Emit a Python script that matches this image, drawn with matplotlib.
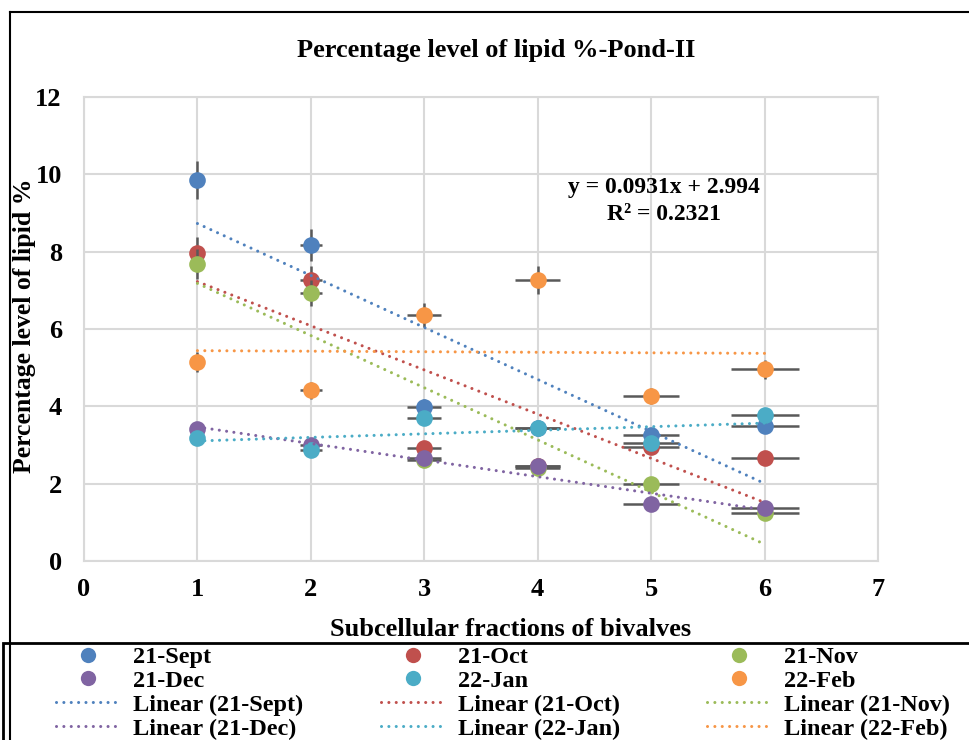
import numpy as np
import matplotlib
matplotlib.use("Agg")
import matplotlib.pyplot as plt
from matplotlib.lines import Line2D
from matplotlib.patches import Rectangle

plt.rcParams['font.family'] = ['Liberation Serif', 'DejaVu Serif']
plt.rcParams['font.weight'] = 'bold'

# ---------------- data ----------------
fractions = [1, 2, 3, 4, 5, 6]
series_names = ["21-Sept", "21-Oct", "21-Nov", "21-Dec", "22-Jan", "22-Feb"]
sept = [9.85, 8.17, 3.98, 3.45, 3.26, 3.49]
octo = [7.97, 7.27, 2.92, 2.45, 2.95, 2.66]
nov = [7.68, 6.93, 2.60, 2.40, 1.99, 1.24]
dec = [3.41, 3.00, 2.66, 2.46, 1.47, 1.37]
jan = [3.18, 2.87, 3.70, 3.44, 3.05, 3.77]
feb = [5.15, 4.42, 6.36, 7.27, 4.27, 4.96]
colors = ["#4F81BD", "#C0504D", "#9BBB59", "#8064A2", "#4BACC6", "#F79646"]
error_pct = 0.05
title = "Percentage level of lipid %-Pond-II"
xlabel = "Subcellular fractions of bivalves"
ylabel = "Percentage level of lipid %"
eq_text = "y = 0.0931x + 2.994"
r2_text = "R\u00b2 = 0.2321"

all_series = [sept, octo, nov, dec, jan, feb]

W, H = 970, 740
fig = plt.figure(figsize=(W / 100, H / 100), dpi=100)

def fx(px):
    return px / W

def fy(py):
    return 1 - py / H

ax = fig.add_axes([fx(84), fy(561), fx(878) - fx(84), fy(97) - fy(561)])

x = np.array(fractions, dtype=float)
for i, (vals, c) in enumerate(zip(all_series, colors)):
    y = np.array(vals, dtype=float)
    ax.errorbar(x, y, xerr=error_pct * x, yerr=error_pct * y, fmt='o',
                color=c, ms=12, mew=0, ecolor='#595959', elinewidth=1.8,
                capsize=5, capthick=1.8, zorder=3 + i * 0.1)

for i, (vals, c) in enumerate(zip(all_series, colors)):
    y = np.array(vals, dtype=float)
    k, b = np.polyfit(x, y, 1)
    ax.plot([x[0], x[-1]], [k * x[0] + b, k * x[-1] + b], color=c, lw=2.2,
            linestyle=(0, (0.01, 2.4)), dash_capstyle='round', zorder=5)

ax.set_xlim(0, 7)
ax.set_ylim(0, 12)
ax.set_xticks(range(0, 8))
ax.set_yticks(range(0, 13, 2))
ax.grid(True, color='#D9D9D9', lw=1.5)
ax.set_axisbelow(True)
for s in ax.spines.values():
    s.set_color('#D9D9D9')
    s.set_linewidth(1.5)
ax.tick_params(length=0, labelsize=19)
ax.tick_params(axis='y', pad=16)
ax.tick_params(axis='x', pad=12)
for lab in ax.get_xticklabels() + ax.get_yticklabels():
    lab.set_fontweight('bold')

fig.text(fx(496), fy(50), title, ha='center', va='center', fontsize=19, fontweight='bold')
fig.text(fx(24.5), fy(326), ylabel, ha='center', va='center', rotation=90, fontsize=18.5, fontweight='bold')
fig.text(fx(511), fy(630), xlabel, ha='center', va='center', fontsize=19, fontweight='bold')
fig.text(fx(664), fy(188), eq_text, ha='center', va='center', fontsize=17, fontweight='bold')
fig.text(fx(664), fy(215), r2_text, ha='center', va='center', fontsize=17, fontweight='bold')

# borders
fig.add_artist(Line2D([fx(10), fx(10)], [fy(12), 0], color='black', lw=1.5))
fig.add_artist(Line2D([fx(10), 1], [fy(12), fy(12)], color='black', lw=1.5))
fig.add_artist(Rectangle((fx(3), -0.01), 1.0, fy(643) + 0.01, fill=False,
                         edgecolor='black', lw=2))

# legend: three columns, row-major order
col_x = [56, 381, 707]
for ci in range(3):
    idxs = [ci, ci + 3]
    handles, labels = [], []
    for j in idxs:
        handles.append(Line2D([], [], marker='o', ls='none', color=colors[j], ms=11, mew=0))
        labels.append(series_names[j])
    for j in idxs:
        handles.append(Line2D([], [], color=colors[j], lw=2.2, linestyle=(0, (0.01, 2.4)),
                              dash_capstyle='round'))
        labels.append("Linear (" + series_names[j] + ")")
    fig.legend(handles, labels, loc='upper left', bbox_to_anchor=(fx(col_x[ci]), fy(646)),
               frameon=False, borderpad=0, borderaxespad=0, handlelength=2.67,
               handletextpad=0.5, labelspacing=0.08, numpoints=1,
               prop={'size': 17.5, 'weight': 'bold'})

fig.savefig("out.png", dpi=100)
